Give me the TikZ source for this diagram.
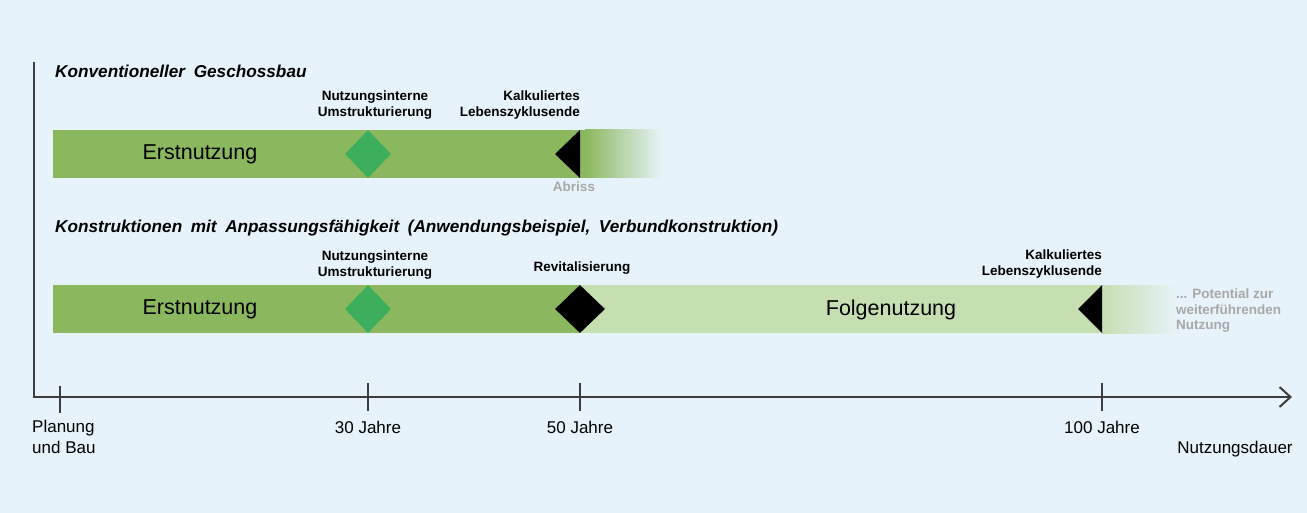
\documentclass[tikz,border=0pt]{standalone}
\usepackage{fontspec}
\setmainfont{Liberation Sans}
\usetikzlibrary{positioning,shapes.geometric,arrows.meta}
\definecolor{bgblue}{HTML}{E7F3FA}
\definecolor{erstgreen}{HTML}{8BB85E}
\definecolor{folgegreen}{HTML}{C6DFB1}
\definecolor{rautegreen}{HTML}{3DAE5B}
\definecolor{achse}{HTML}{3C3C3C}
\definecolor{grautext}{HTML}{A8A8A8}
\newcommand\weitabstand{\spaceskip=0.5em plus 0.1em\relax}
\tikzset{
 titel/.style={font=\fontsize{17.2}{20}\selectfont\bfseries\itshape\weitabstand,anchor=west,inner sep=0pt},
 klein/.style={font=\fontsize{13.5}{16}\selectfont\bfseries,align=center,inner sep=0pt},
 phase/.style={font=\fontsize{21.5}{24}\selectfont,inner sep=0pt},
 achsentext/.style={font=\fontsize{17}{21}\selectfont,inner sep=0pt},
 raute/.style={diamond,fill=rautegreen,inner sep=0pt,minimum width=46pt,minimum height=48pt},
 schwarzraute/.style={diamond,fill=black,inner sep=0pt,minimum width=50pt,minimum height=48pt},
 strich/.style={achse,line width=1.5pt}
}
\begin{document}
\begin{tikzpicture}[x=1pt,y=-1pt]
 \fill[bgblue](0,0) rectangle (1307,513);
 \useasboundingbox (0,0) rectangle (1307,513);
 % Konventioneller Geschossbau
 \node[titel] (titelA) at (55,71) {Konventioneller Geschossbau};
 \fill[erstgreen](53,130) rectangle (585,178);
 \shade[left color=erstgreen,right color=bgblue](585,130) rectangle (662,178);
 \node[phase] (erstA) at (200,154) {Erstnutzung};
 \node[raute] (umA) at (368,154) {};
 \fill[black](580,130)--(555,154)--(580,178)--cycle;
 \coordinate (endeA) at (580,154);
 \node[klein] (umtextA) at (375,105) {Nutzungsinterne\\Umstrukturierung};
 \node[klein,align=right,anchor=east] (kalkA) at (580,105) {Kalkuliertes\\Lebenszyklusende};
 \node[klein,text=grautext] (abriss) at (574,187) {Abriss};
 % Konstruktionen mit Anpassungsfaehigkeit
 \node[titel] (titelB) at (55,228) {Konstruktionen mit Anpassungsfähigkeit (Anwendungsbeispiel, Verbundkonstruktion)};
 \fill[erstgreen](53,285) rectangle (580,333);
 \fill[folgegreen](580,285) rectangle (1102,333);
 \shade[left color=folgegreen,right color=bgblue](1102,285) rectangle (1178,333);
 \node[phase] (erstB) at (200,309) {Erstnutzung};
 \node[phase] (folgeB) at (891,310) {Folgenutzung};
 \node[raute] (umB) at (368,309) {};
 \node[schwarzraute] (revB) at (580,309) {};
 \fill[black](1102,285)--(1078,309)--(1102,333)--cycle;
 \node[klein] (umtextB) at (375,265) {Nutzungsinterne\\Umstrukturierung};
 \node[klein] (revtext) at (582,268) {Revitalisierung};
 \node[klein,align=right,anchor=east] (kalkB) at (1102,264) {Kalkuliertes\\Lebenszyklusende};
 \node[klein,font=\fontsize{13.5}{15.5}\selectfont\bfseries,text=grautext,align=left,anchor=west] (potential) at (1176,311) {... Potential zur\\weiterführenden\\Nutzung};
 % Achsen
 \coordinate (ursprung) at (34,397);
 \coordinate (oben) at (34,62);
 \coordinate (ende) at (1292,397);
 \draw[achse,line width=2.5pt] (oben)--(ursprung);
 \draw[achse,line width=2.5pt,-{Straight Barb[length=11pt,width=20pt,line width=2pt]}] ([xshift=-1.25pt]ursprung)--(ende);
 \draw[strich](60,386)--(60,413);
 \draw[strich](368,383)--(368,411);
 \draw[strich](580,383)--(580,411);
 \draw[strich](1102,383)--(1102,411);
 \node[achsentext,align=left,anchor=north west] (planung) at (32,420) {Planung\\und Bau};
 \node[achsentext] (j30) at (368,427) {30 Jahre};
 \node[achsentext] (j50) at (580,427) {50 Jahre};
 \node[achsentext] (j100) at (1102,427) {100 Jahre};
 \node[achsentext] (dauer) at (1235,449) {Nutzungsdauer};
\end{tikzpicture}
\end{document}
